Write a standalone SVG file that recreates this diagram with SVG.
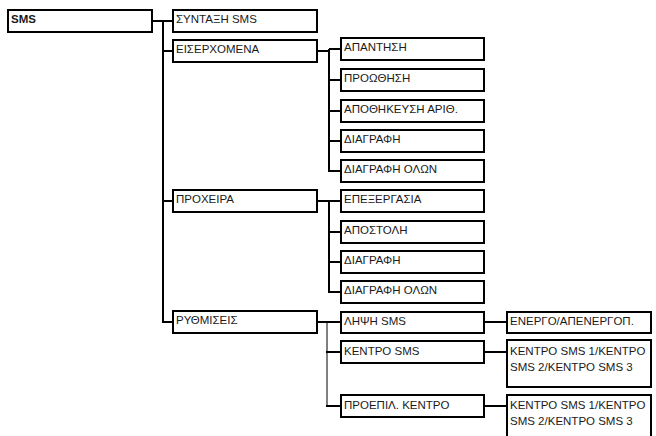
<svg xmlns="http://www.w3.org/2000/svg" width="656" height="436" viewBox="0 0 656 436">
<style>
rect{fill:#fff;stroke:#000;stroke-width:2}
text{font-family:"Liberation Sans",Arial,sans-serif;font-size:11.5px;fill:#1a1a1a}
.b{font-weight:bold}
.c{fill:none;stroke:#000;stroke-width:2}
.t{fill:none;stroke:#000;stroke-width:1}
</style>
<g id="connectors">
<path class="c" d="M152 21H163M163 20V323M163 21H173M163 51H173M163 201H173M163 322H173"/>
<path class="c" d="M317 51H329M329 49V172M329 49H341M329 80H341M329 111H341M329 141H341M329 171H341"/>
<path class="c" d="M317 201H329M329 200V293M329 201H341M329 232H341M329 262H341M329 292H341"/>
<path class="c" d="M317 322H341"/>
<path class="t" d="M327 322V406"/>
<path class="c" d="M326 352H341M326 406H341"/>
<path class="c" d="M484 322H507M484 352H507M484 406H507"/>
</g>
<g id="sms"><rect x="8" y="10" width="144" height="22"/><text class="b" x="11" y="23">SMS</text></g>
<g id="syntaxi"><rect x="173" y="10" width="144" height="22"/><text x="176" y="23">ΣΥΝΤΑΞΗ SMS</text></g>
<g id="eiserxomena"><rect x="173" y="40" width="144" height="22"/><text x="176" y="53">ΕΙΣΕΡΧΟΜΕΝΑ</text></g>
<g id="proxeira"><rect x="173" y="190" width="144" height="22"/><text x="176" y="203">ΠΡΟΧΕΙΡΑ</text></g>
<g id="rythmiseis"><rect x="173" y="311" width="144" height="22"/><text x="176" y="324">ΡΥΘΜΙΣΕΙΣ</text></g>
<g id="apantisi"><rect x="341" y="38" width="143" height="22"/><text x="344" y="51">ΑΠΑΝΤΗΣΗ</text></g>
<g id="proothisi"><rect x="341" y="69" width="143" height="22"/><text x="344" y="82">ΠΡΟΩΘΗΣΗ</text></g>
<g id="apothikeysi"><rect x="341" y="100" width="143" height="22"/><text x="344" y="113">ΑΠΟΘΗΚΕΥΣΗ ΑΡΙΘ.</text></g>
<g id="diagrafi1"><rect x="341" y="130" width="143" height="22"/><text x="344" y="143">ΔΙΑΓΡΑΦΗ</text></g>
<g id="diagrafiolon1"><rect x="341" y="160" width="143" height="22"/><text x="344" y="173">ΔΙΑΓΡΑΦΗ ΟΛΩΝ</text></g>
<g id="epexergasia"><rect x="341" y="190" width="143" height="22"/><text x="344" y="203">ΕΠΕΞΕΡΓΑΣΙΑ</text></g>
<g id="apostoli"><rect x="341" y="221" width="143" height="22"/><text x="344" y="234">ΑΠΟΣΤΟΛΗ</text></g>
<g id="diagrafi2"><rect x="341" y="251" width="143" height="22"/><text x="344" y="264">ΔΙΑΓΡΑΦΗ</text></g>
<g id="diagrafiolon2"><rect x="341" y="281" width="143" height="22"/><text x="344" y="294">ΔΙΑΓΡΑΦΗ ΟΛΩΝ</text></g>
<g id="lipsi"><rect x="341" y="312" width="143" height="21"/><text x="344" y="325">ΛΗΨΗ SMS</text></g>
<g id="kentro"><rect x="341" y="341" width="143" height="22"/><text x="344" y="355">ΚΕΝΤΡΟ SMS</text></g>
<g id="proepil"><rect x="341" y="395" width="143" height="22"/><text x="344" y="409">ΠΡΟΕΠΙΛ. ΚΕΝΤΡΟ</text></g>
<g id="energo"><rect x="507" y="312" width="144" height="21"/><text x="510" y="325">ΕΝΕΡΓΟ/ΑΠΕΝΕΡΓΟΠ.</text></g>
<g id="kentro-opts1"><rect x="507" y="340" width="144" height="47"/><text x="510" y="355">ΚΕΝΤΡΟ SMS 1/ΚΕΝΤΡΟ</text><text x="510" y="371">SMS 2/ΚΕΝΤΡΟ SMS 3</text></g>
<g id="kentro-opts2"><rect x="507" y="395" width="144" height="50"/><text x="510" y="409">ΚΕΝΤΡΟ SMS 1/ΚΕΝΤΡΟ</text><text x="510" y="425">SMS 2/ΚΕΝΤΡΟ SMS 3</text></g>
</svg>
